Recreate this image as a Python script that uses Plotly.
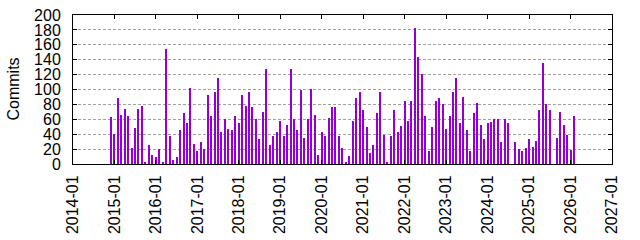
import plotly.graph_objects as go
import pandas as pd

start_month = "2014-12-01"
commits = [
    63,                                              # 2014-12
    40, 89, 66, 74, 65, 22, 49, 74, 78, 2, 26, 12,   # 2015
    10, 20, 3, 155, 38, 6, 10, 45, 69, 55, 102, 27,  # 2016
    18, 30, 20, 92, 65, 96, 116, 43, 61, 47, 46, 65, # 2017
    55, 92, 78, 97, 77, 61, 34, 70, 127, 25, 37, 43, # 2018
    58, 37, 53, 127, 60, 45, 100, 35, 61, 101, 66, 12,  # 2019
    43, 38, 62, 77, 76, 38, 22, 2, 11, 58, 89, 97,   # 2020
    73, 50, 15, 26, 68, 97, 39, 2, 38, 73, 43, 51,   # 2021
    85, 58, 85, 183, 143, 121, 65, 18, 50, 84, 88, 80,  # 2022
    47, 65, 97, 116, 55, 90, 45, 18, 68, 82, 53, 34, # 2023
    55, 57, 60, 61, 30, 60, 55, 0, 30, 20, 18, 21,   # 2024
    34, 23, 31, 73, 136, 80, 72, 0, 35, 70, 53, 39,  # 2025
    19, 65,                                          # 2026
]
months = pd.date_range(start_month, periods=len(commits), freq="MS")

y_ticks = list(range(0, 201, 20))
x_range = ["2014-01-01", "2027-01-01"]

fig = go.Figure()
fig.add_trace(go.Bar(
    x=months, y=commits,
    width=9 * 86400000,
    marker=dict(color="#9400D3", line=dict(width=0)),
    showlegend=False,
))

font = dict(family="Liberation Sans, Arial, sans-serif", size=16, color="black")

fig.update_layout(
    width=640, height=240,
    margin=dict(l=73, r=28, t=15, b=76, autoexpand=False),
    paper_bgcolor="white", plot_bgcolor="white",
    font=font,
    bargap=0,
    xaxis=dict(
        type="date", range=x_range, automargin=False,
        dtick="M12", tick0="2014-01-01", tickformat="%Y-%m",
        tickangle=-90,
        showgrid=False, zeroline=False,
        showline=True, linecolor="black", linewidth=1, mirror="ticks",
        ticks="inside", ticklen=4, tickcolor="black",
        tickfont=font, ticklabelstandoff=4,
    ),
    yaxis=dict(
        range=[0, 200], tickvals=y_ticks, automargin=False,
        showgrid=True, gridcolor="#a0a0a0", griddash="3px,2px", gridwidth=1,
        zeroline=False,
        showline=True, linecolor="black", linewidth=1, mirror="ticks",
        ticks="inside", ticklen=4, tickcolor="black",
        tickfont=font, ticklabelstandoff=8,
    ),
    annotations=[dict(
        text="Commits", textangle=-90, font=font,
        xref="paper", yref="paper", x=(13 - 73) / 539, y=0.5,
        xanchor="center", yanchor="middle", showarrow=False,
    )],
)

fig.write_html("out.html")
